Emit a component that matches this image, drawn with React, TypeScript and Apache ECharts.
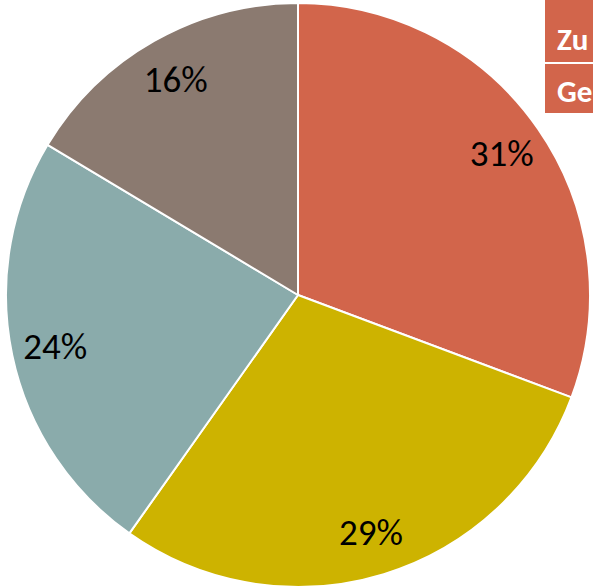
import React, { useEffect, useRef } from "react";
import * as echarts from "echarts";

const categories = ["Segment 1", "Segment 2", "Segment 3", "Segment 4"];
const values = [30.7, 29.1, 23.8, 16.4];
const colors = ["#D2654B", "#CDB300", "#8AABAB", "#8B7A70"];
const boxTexts = ["Zu", "Ge"];

const FONT = "Carlito, Lato, 'Open Sans', sans-serif";

export default function App() {
  const ref = useRef<HTMLDivElement>(null);
  useEffect(() => {
    document.body.style.margin = "0";
    const chart = echarts.init(ref.current!, undefined, { renderer: "svg" });
    const data = categories.map((name, i) => ({
      name,
      value: values[i],
      itemStyle: { color: colors[i] },
    }));
    chart.setOption({
      animation: false,
      backgroundColor: "#ffffff",
      series: [
        {
          type: "pie",
          center: [298, 295],
          radius: [0, 292],
          startAngle: 90,
          clockwise: true,
          silent: true,
          label: { show: false },
          labelLine: { show: false },
          itemStyle: { borderColor: "#ffffff", borderWidth: 2 },
          data,
        },
        {
          type: "pie",
          center: [298, 295],
          radius: [198, 292],
          startAngle: 90,
          clockwise: true,
          silent: true,
          itemStyle: { color: "rgba(0,0,0,0)", borderWidth: 0 },
          labelLine: { show: false },
          label: {
            show: true,
            position: "inside",
            color: "#000000",
            fontSize: 37,
            fontWeight: "normal",
            fontFamily: FONT,
            formatter: (p: any) => Math.round(p.value) + "%",
          },
          data: categories.map((name, i) => ({ name, value: values[i] })),
        },
      ],
      graphic: [
        {
          type: "rect",
          shape: { x: 545, y: 0, width: 48, height: 62 },
          style: { fill: "#D2654B" },
        },
        {
          type: "rect",
          shape: { x: 545, y: 64, width: 48, height: 49 },
          style: { fill: "#D2654B" },
        },
        {
          type: "text",
          x: 557,
          y: 39,
          style: {
            text: boxTexts[0],
            fill: "#ffffff",
            fontSize: 31,
            fontWeight: "bold",
            fontFamily: FONT,
            verticalAlign: "middle",
          },
        },
        {
          type: "text",
          x: 557,
          y: 91,
          style: {
            text: boxTexts[1],
            fill: "#ffffff",
            fontSize: 31,
            fontWeight: "bold",
            fontFamily: FONT,
            verticalAlign: "middle",
          },
        },
      ],
    });
    return () => chart.dispose();
  }, []);
  return <div ref={ref} style={{ width: 593, height: 587 }} />;
}
